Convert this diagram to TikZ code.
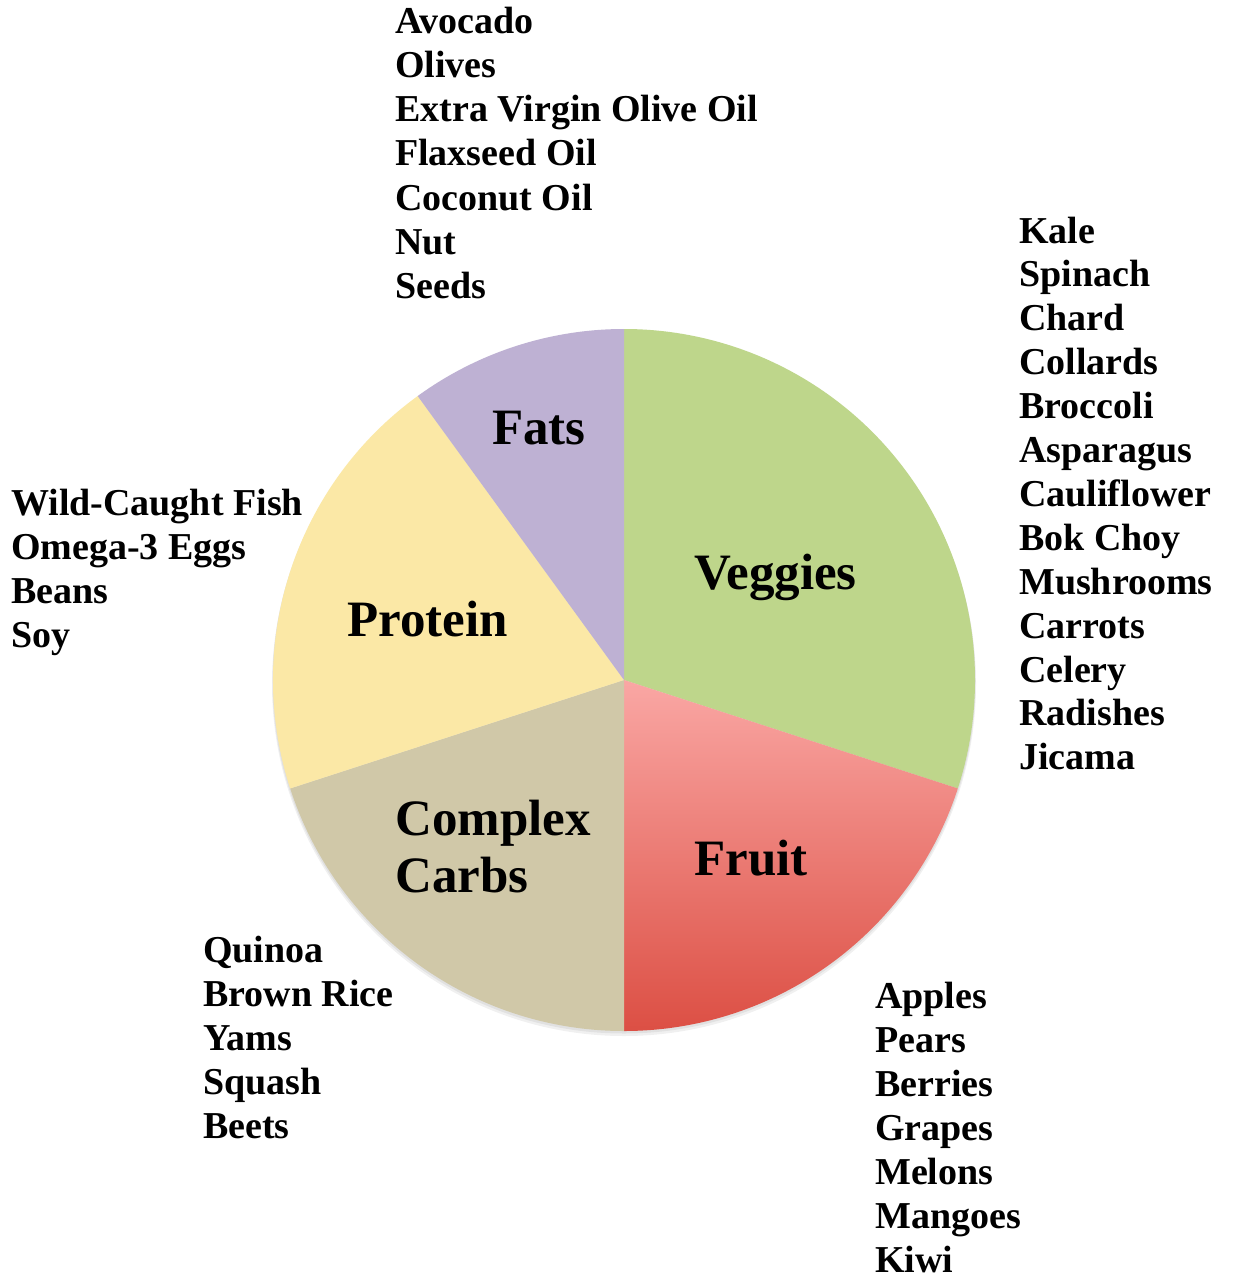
\documentclass[tikz,border=0pt]{standalone}
\usepackage{fontspec}
\setmainfont{Liberation Serif}
\definecolor{vegc}{HTML}{BED68B}
\definecolor{fatc}{HTML}{BEB1D3}
\definecolor{proc}{HTML}{FBE8A6}
\definecolor{carc}{HTML}{D0C8A8}
\definecolor{fruittop}{HTML}{FAA7A4}
\definecolor{fruitbot}{HTML}{DC4F44}
\tikzset{
  item/.style={font=\fontsize{38}{44}\selectfont\bfseries, anchor=base west, inner sep=0pt},
  biglabel/.style={font=\fontsize{51}{57}\selectfont\bfseries, anchor=base west, inner sep=0pt},
}
\begin{document}
\begin{tikzpicture}[x=1pt,y=1pt]
\useasboundingbox (0,0) rectangle (1232,-1276);
\fill[white] (0,0) rectangle (1232,-1276);
\coordinate (C) at (624,-680);
\def\R{351}
% soft shadow
\fill[black, opacity=0.06] ([yshift=-4pt]C) circle[radius=\R+1];
\fill[black, opacity=0.06] ([yshift=-2pt]C) circle[radius=\R+0.5];
% slices
\fill[vegc] (C) -- ++(-18:\R) arc[start angle=-18, end angle=90, radius=\R] -- cycle;
\shade[top color=fruittop, bottom color=fruitbot] (C) -- ++(-90:\R) arc[start angle=-90, end angle=-18, radius=\R] -- cycle;
\fill[carc] (C) -- ++(198:\R) arc[start angle=198, end angle=270, radius=\R] -- cycle;
\fill[proc] (C) -- ++(126:\R) arc[start angle=126, end angle=198, radius=\R] -- cycle;
\fill[fatc] (C) -- ++(90:\R) arc[start angle=90, end angle=126, radius=\R] -- cycle;
% big labels
\node[biglabel] (fats) at (492,-444) {Fats};
\node[biglabel] (veggies) at (694,-589) {Veggies};
\node[biglabel] (protein) at (347,-636) {Protein};
\node[biglabel] (complex) at (395,-835) {Complex};
\node[biglabel] (carbs) at (395,-892) {Carbs};
\node[biglabel] (fruit) at (694,-875) {Fruit};
% lists
\foreach \t [count=\i] in {Avocado, Olives, Extra Virgin Olive Oil, Flaxseed Oil, Coconut Oil, Nut, Seeds}
  \node[item] (fatitem\i) at (395,{-34-44*(\i-1)}) {\t};
\foreach \t [count=\i] in {Kale, Spinach, Chard, Collards, Broccoli, Asparagus, Cauliflower, Bok Choy, Mushrooms, Carrots, Celery, Radishes, Jicama}
  \node[item] (vegitem\i) at (1019,{-243-43.9*(\i-1)}) {\t};
\foreach \t [count=\i] in {Wild-Caught Fish, Omega-3 Eggs, Beans, Soy}
  \node[item] (proitem\i) at (11,{-515-44*(\i-1)}) {\t};
\foreach \t [count=\i] in {Quinoa, Brown Rice, Yams, Squash, Beets}
  \node[item] (caritem\i) at (203,{-962-44*(\i-1)}) {\t};
\foreach \t [count=\i] in {Apples, Pears, Berries, Grapes, Melons, Mangoes, Kiwi}
  \node[item] (fruitem\i) at (875,{-1008-44*(\i-1)}) {\t};
\end{tikzpicture}
\end{document}
